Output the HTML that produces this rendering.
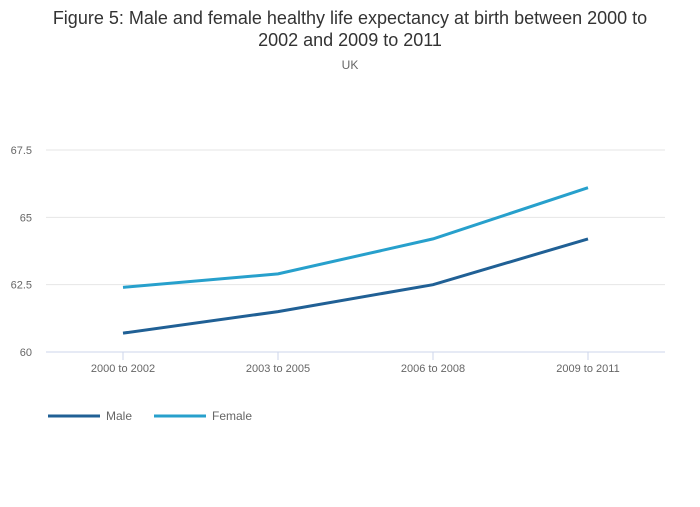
<!DOCTYPE html>
<html><head><meta charset="utf-8"><style>
body{margin:0;background:#fff;font-family:"Liberation Sans",sans-serif}
svg text{font-family:"Liberation Sans",sans-serif}
</style></head><body>
<svg width="700" height="502">
<text x="350" y="24" text-anchor="middle" font-size="18" fill="#333">Figure 5: Male and female healthy life expectancy at birth between 2000 to</text>
<text x="350" y="46" text-anchor="middle" font-size="18" fill="#333">2002 and 2009 to 2011</text>
<text x="350" y="69" text-anchor="middle" font-size="12" fill="#666">UK</text>
<g id="grid"></g><g id="xaxis"></g><g id="lines"></g>
<g>
<line x1="48" y1="416" x2="100" y2="416" stroke="#206095" stroke-width="3"/>
<text x="106" y="420" font-size="12" fill="#666">Male</text>
<line x1="154" y1="416" x2="206" y2="416" stroke="#27a0cc" stroke-width="3"/>
<text x="212" y="420" font-size="12" fill="#666">Female</text>
</g>
</svg>
<script>
const categories=["2000 to 2002","2003 to 2005","2006 to 2008","2009 to 2011"];
const male=[60.7,61.5,62.5,64.2];
const female=[62.4,62.9,64.2,66.1];
const yTicks=[60,62.5,65,67.5];
const NS="http://www.w3.org/2000/svg";
const L=46,R=665,Y0=352,Y1=150,ymin=60,ymax=67.5;
const y=v=>Y0-(v-ymin)/(ymax-ymin)*(Y0-Y1);
const x=i=>123+i*155;
function mk(t,a,p){const e=document.createElementNS(NS,t);for(const k in a)e.setAttribute(k,a[k]);p.appendChild(e);return e;}
const g=document.getElementById('grid');
yTicks.forEach(v=>{
 const ln=mk('line',{x1:L,x2:R,y1:y(v),y2:y(v),stroke:v===ymin?'#ccd6eb':'#e6e6e6'},g);
 
 
 const t=mk('text',{x:32,y:y(v)+4,'text-anchor':'end','font-size':11,fill:'#666'},g);
 t.textContent=v;
 
 
});
const xa=document.getElementById('xaxis');
categories.forEach((c,i)=>{
 const tk=mk('line',{x1:x(i),x2:x(i),y1:Y0,y2:Y0+8,stroke:'#ccd6eb'},xa);
 
 
 const t=mk('text',{x:x(i),y:372,'text-anchor':'middle','font-size':11,fill:'#666'},xa);
 t.textContent=c;
 
 
});
const lg=document.getElementById('lines');
[[male,'#206095','male-line'],[female,'#27a0cc','female-line']].forEach(([d,col,n])=>{
 const p=mk('path',{d:d.map((v,i)=>(i?'L':'M')+x(i)+','+y(v)).join(''),fill:'none',stroke:col,'stroke-width':3},lg);
 
 
});
</script>
</body></html>
